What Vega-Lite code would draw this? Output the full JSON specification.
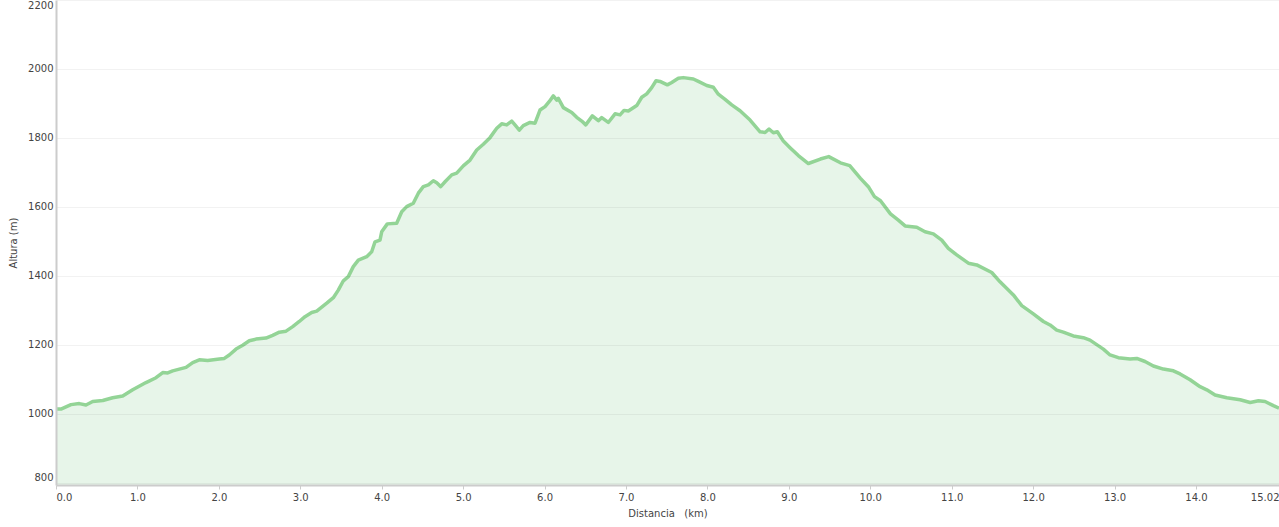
{
  "$schema": "https://vega.github.io/schema/vega-lite/v6.json",
  "autosize": "none",
  "padding": {"left": 56, "top": 0, "right": 0, "bottom": 42},
  "width": 1223,
  "height": 485,
  "background": "white",
  "config": {
    "view": {"stroke": null},
    "font": "DejaVu Sans",
    "axis": {
      "labelFont": "DejaVu Sans",
      "labelFontSize": 10,
      "labelColor": "#444444",
      "titleFont": "DejaVu Sans",
      "titleFontSize": 10,
      "titleFontWeight": "normal",
      "titleColor": "#444444",
      "domainColor": "#cccccc",
      "domainWidth": 2,
      "tickColor": "#cccccc"
    }
  },
  "data": {
    "values": [
      {"d": 0.000, "h": 1014}, {"d": 0.061, "h": 1014}, {"d": 0.184, "h": 1027}, {"d": 0.286, "h": 1030},
      {"d": 0.368, "h": 1026}, {"d": 0.451, "h": 1036}, {"d": 0.574, "h": 1039}, {"d": 0.696, "h": 1047},
      {"d": 0.819, "h": 1052}, {"d": 0.942, "h": 1070}, {"d": 1.105, "h": 1091}, {"d": 1.228, "h": 1105},
      {"d": 1.311, "h": 1120}, {"d": 1.372, "h": 1119}, {"d": 1.433, "h": 1125}, {"d": 1.597, "h": 1135},
      {"d": 1.679, "h": 1149}, {"d": 1.760, "h": 1157}, {"d": 1.863, "h": 1155}, {"d": 2.006, "h": 1159},
      {"d": 2.067, "h": 1161}, {"d": 2.128, "h": 1171}, {"d": 2.211, "h": 1188}, {"d": 2.293, "h": 1199},
      {"d": 2.374, "h": 1212}, {"d": 2.456, "h": 1217}, {"d": 2.579, "h": 1220}, {"d": 2.661, "h": 1228},
      {"d": 2.743, "h": 1237}, {"d": 2.825, "h": 1240}, {"d": 2.907, "h": 1253}, {"d": 2.988, "h": 1268},
      {"d": 3.058, "h": 1282}, {"d": 3.140, "h": 1294}, {"d": 3.202, "h": 1298}, {"d": 3.325, "h": 1321},
      {"d": 3.406, "h": 1337}, {"d": 3.467, "h": 1359}, {"d": 3.529, "h": 1386}, {"d": 3.590, "h": 1398},
      {"d": 3.651, "h": 1427}, {"d": 3.713, "h": 1446}, {"d": 3.816, "h": 1456}, {"d": 3.877, "h": 1470},
      {"d": 3.918, "h": 1499}, {"d": 3.979, "h": 1504}, {"d": 4.000, "h": 1528}, {"d": 4.069, "h": 1551},
      {"d": 4.184, "h": 1553}, {"d": 4.246, "h": 1586}, {"d": 4.307, "h": 1601}, {"d": 4.388, "h": 1611},
      {"d": 4.450, "h": 1640}, {"d": 4.511, "h": 1659}, {"d": 4.573, "h": 1664}, {"d": 4.634, "h": 1676},
      {"d": 4.676, "h": 1670}, {"d": 4.725, "h": 1659}, {"d": 4.778, "h": 1673}, {"d": 4.860, "h": 1693},
      {"d": 4.921, "h": 1698}, {"d": 5.002, "h": 1719}, {"d": 5.085, "h": 1736}, {"d": 5.167, "h": 1765},
      {"d": 5.248, "h": 1782}, {"d": 5.330, "h": 1801}, {"d": 5.413, "h": 1828}, {"d": 5.474, "h": 1841},
      {"d": 5.535, "h": 1838}, {"d": 5.597, "h": 1849}, {"d": 5.637, "h": 1838}, {"d": 5.690, "h": 1823},
      {"d": 5.739, "h": 1836}, {"d": 5.822, "h": 1845}, {"d": 5.883, "h": 1843}, {"d": 5.944, "h": 1881},
      {"d": 6.006, "h": 1891}, {"d": 6.059, "h": 1906}, {"d": 6.108, "h": 1922}, {"d": 6.150, "h": 1910},
      {"d": 6.169, "h": 1915}, {"d": 6.231, "h": 1888}, {"d": 6.334, "h": 1874}, {"d": 6.395, "h": 1860},
      {"d": 6.457, "h": 1849}, {"d": 6.506, "h": 1838}, {"d": 6.587, "h": 1864}, {"d": 6.661, "h": 1850},
      {"d": 6.702, "h": 1859}, {"d": 6.783, "h": 1845}, {"d": 6.866, "h": 1870}, {"d": 6.927, "h": 1867},
      {"d": 6.976, "h": 1880}, {"d": 7.029, "h": 1878}, {"d": 7.132, "h": 1894}, {"d": 7.194, "h": 1918},
      {"d": 7.255, "h": 1928}, {"d": 7.316, "h": 1946}, {"d": 7.369, "h": 1966}, {"d": 7.418, "h": 1964},
      {"d": 7.508, "h": 1954}, {"d": 7.562, "h": 1961}, {"d": 7.643, "h": 1973}, {"d": 7.704, "h": 1975},
      {"d": 7.827, "h": 1971}, {"d": 7.889, "h": 1964}, {"d": 7.992, "h": 1952}, {"d": 8.073, "h": 1947},
      {"d": 8.134, "h": 1927}, {"d": 8.217, "h": 1912}, {"d": 8.299, "h": 1896}, {"d": 8.401, "h": 1879},
      {"d": 8.524, "h": 1852}, {"d": 8.647, "h": 1818}, {"d": 8.708, "h": 1816}, {"d": 8.757, "h": 1826},
      {"d": 8.810, "h": 1815}, {"d": 8.859, "h": 1818}, {"d": 8.933, "h": 1791}, {"d": 9.015, "h": 1772},
      {"d": 9.117, "h": 1749}, {"d": 9.240, "h": 1726}, {"d": 9.388, "h": 1739}, {"d": 9.490, "h": 1746},
      {"d": 9.634, "h": 1728}, {"d": 9.748, "h": 1720}, {"d": 9.880, "h": 1683}, {"d": 9.982, "h": 1657},
      {"d": 10.052, "h": 1630}, {"d": 10.126, "h": 1618}, {"d": 10.248, "h": 1580}, {"d": 10.345, "h": 1562},
      {"d": 10.428, "h": 1545}, {"d": 10.571, "h": 1541}, {"d": 10.673, "h": 1528}, {"d": 10.775, "h": 1522},
      {"d": 10.878, "h": 1504}, {"d": 10.959, "h": 1480}, {"d": 11.062, "h": 1461}, {"d": 11.205, "h": 1437},
      {"d": 11.308, "h": 1432}, {"d": 11.492, "h": 1410}, {"d": 11.594, "h": 1383}, {"d": 11.758, "h": 1345},
      {"d": 11.861, "h": 1314}, {"d": 12.003, "h": 1290}, {"d": 12.126, "h": 1268}, {"d": 12.208, "h": 1258},
      {"d": 12.290, "h": 1243}, {"d": 12.371, "h": 1237}, {"d": 12.494, "h": 1226}, {"d": 12.617, "h": 1221},
      {"d": 12.699, "h": 1214}, {"d": 12.863, "h": 1188}, {"d": 12.945, "h": 1171}, {"d": 13.047, "h": 1163},
      {"d": 13.191, "h": 1159}, {"d": 13.273, "h": 1161}, {"d": 13.375, "h": 1152}, {"d": 13.477, "h": 1139},
      {"d": 13.600, "h": 1130}, {"d": 13.723, "h": 1125}, {"d": 13.805, "h": 1116}, {"d": 13.928, "h": 1099},
      {"d": 14.051, "h": 1079}, {"d": 14.133, "h": 1070}, {"d": 14.235, "h": 1055}, {"d": 14.379, "h": 1047},
      {"d": 14.543, "h": 1041}, {"d": 14.666, "h": 1033}, {"d": 14.768, "h": 1038}, {"d": 14.849, "h": 1036},
      {"d": 14.951, "h": 1024}, {"d": 15.020, "h": 1017}
    ]
  },
  "encoding": {
    "x": {
      "field": "d",
      "type": "quantitative",
      "scale": {"domain": [0, 15.02], "nice": false, "zero": false},
      "axis": {
        "title": "Distancia \u00a0 (km)",
        "values": [0, 1, 2, 3, 4, 5, 6, 7, 8, 9, 10, 11, 12, 13, 14, 15.02],
        "labelExpr": "datum.value == 15.02 ? '15.02' : format(datum.value, '.1f')",
        "labelFlush": true,
        "grid": false,
        "tickSize": 4,
        "labelPadding": 3,
        "titlePadding": 6,
        "zindex": 1
      }
    },
    "y": {
      "field": "h",
      "type": "quantitative",
      "scale": {"domain": [794, 2200], "nice": false, "zero": false},
      "axis": {
        "title": "Altura (m)",
        "format": "d",
        "values": [800, 1000, 1200, 1400, 1600, 1800, 2000, 2200],
        "grid": true,
        "gridColor": "#000000",
        "gridOpacity": 0.05,
        "ticks": false,
        "labelPadding": 3,
        "labelFlush": 4,
        "titlePadding": 9,
        "zindex": 1
      }
    }
  },
  "layer": [
    {
      "mark": {"type": "area", "color": "#e7f5e9", "opacity": 1, "interpolate": "linear", "clip": true},
      "encoding": {"y2": {"datum": 794}}
    },
    {"mark": {"type": "line", "color": "#93d496", "strokeWidth": 3.5, "strokeJoin": "round", "interpolate": "linear", "clip": true}}
  ]
}
